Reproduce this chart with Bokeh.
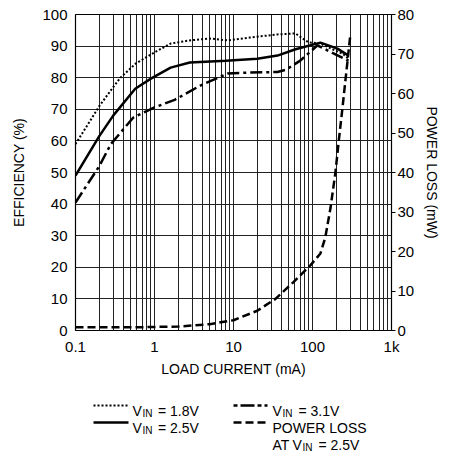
from bokeh.plotting import figure
from bokeh.models import Range1d, LinearAxis, FixedTicker, CustomJSTickFormatter
from bokeh.layouts import column
from bokeh.core.properties import value
from bokeh.embed import file_html
from bokeh.resources import INLINE

FONT = "Liberation Sans"

# ---- data ----
x_18 = [0.1, 0.15, 0.2, 0.28, 0.37, 0.58, 1, 1.6, 2.8, 5, 8.5, 16, 36, 61, 75, 89, 126, 179, 240, 286]
eff_18 = [59, 66, 71, 76, 80, 84.5, 88, 90.8, 91.8, 92.4, 91.8, 92.7, 93.7, 94, 92.4, 91.2, 90.8, 89, 87.6, 86]

x_25 = [0.1, 0.2, 0.3, 0.57, 0.9, 1.6, 2.8, 8, 20, 36, 61, 126, 207, 286]
eff_25 = [49, 61.5, 68, 76.5, 79.7, 83.2, 84.8, 85.4, 86, 87, 89, 91.1, 89.2, 87]

x_31 = [0.1, 0.2, 0.28, 0.54, 1, 1.8, 3.8, 8.4, 15, 36, 46, 70, 115, 286]
eff_31 = [40.5, 52, 59, 67.4, 70.6, 73, 77.5, 81.3, 81.6, 81.8, 82.5, 85.4, 90.2, 85.4]

x_loss = [0.1, 0.5, 1, 2, 5, 10, 20, 34, 57, 94, 126, 145, 169, 195, 215, 240, 260, 302]
p_loss = [0.8, 0.8, 0.9, 1.0, 1.6, 2.6, 5, 8, 12.2, 16.5, 19.5, 23.5, 31, 40, 48, 56.5, 63, 75]

x_major = [0.1, 1, 10, 100, 1000]
x_minor = [m * d for d in (0.1, 1, 10, 100) for m in range(2, 10)]
eff_ticks = list(range(0, 101, 10))
loss_ticks = list(range(0, 81, 10))

# ---- main chart ----
p = figure(width=450, height=380, x_axis_type="log",
           x_range=Range1d(0.1, 1000), y_range=Range1d(0, 100),
           output_backend="svg", toolbar_location=None,
           min_border_left=75, min_border_right=59,
           min_border_top=14, min_border_bottom=50,
           background_fill_color="white", border_fill_color="white")
p.frame_align = False
p.extra_y_ranges = {"power": Range1d(0, 80)}

p.outline_line_color = "black"
p.outline_line_width = 1.2

xa = p.xaxis[0]
xa.ticker = FixedTicker(ticks=x_major, minor_ticks=x_minor)
xa.formatter = CustomJSTickFormatter(code="return tick >= 1000 ? (tick/1000) + 'k' : String(tick);")
xa.axis_label = "LOAD CURRENT (mA)"

ya = p.yaxis[0]
ya.ticker = FixedTicker(ticks=eff_ticks)
ya.axis_label = "EFFICIENCY (%)"

ra = LinearAxis(y_range_name="power", axis_label="POWER LOSS (mW)",
                ticker=FixedTicker(ticks=loss_ticks))
p.add_layout(ra, "right")

for ax in (xa, ya, ra):
    ax.axis_line_color = None
    ax.minor_tick_line_color = None
    ax.major_tick_in = 0
    ax.major_label_text_font = FONT
    ax.major_label_text_font_size = "15px"
    ax.major_label_text_color = "black"
    ax.axis_label_text_font = FONT
    ax.axis_label_text_font_size = "14px"
    ax.axis_label_text_font_style = "normal"
    ax.axis_label_text_color = "black"

xa.major_tick_out = 0
xa.major_label_standoff = 3
xa.axis_label_standoff = 3
ya.major_tick_out = 0
ya.major_label_standoff = 8
ya.axis_label_standoff = 12
ra.major_tick_out = 4
ra.major_tick_line_color = "black"
ra.major_label_standoff = 2
ra.axis_label_standoff = 7

p.xgrid.ticker = FixedTicker(ticks=x_major, minor_ticks=x_minor)
p.xgrid.grid_line_color = "#222222"
p.xgrid.minor_grid_line_color = "#222222"
p.xgrid.grid_line_width = 1
p.xgrid.minor_grid_line_width = 1
p.ygrid.ticker = FixedTicker(ticks=eff_ticks)
p.ygrid.grid_line_color = "#222222"
p.ygrid.grid_line_width = 1

p.line(x_18, eff_18, line_color="black", line_width=2, line_dash="2 2")
p.line(x_25, eff_25, line_color="black", line_width=2.5)
p.line(x_31, eff_31, line_color="black", line_width=2.5, line_dash="12 4 3 4")
p.line(x_loss, p_loss, y_range_name="power", line_color="black", line_width=2.5, line_dash="8 4")

# ---- legend panel (coordinates in page pixels, offset by 380) ----
q = figure(width=450, height=72, x_range=Range1d(0, 450), y_range=Range1d(72, 0),
           output_backend="svg", toolbar_location=None, min_border=0,
           x_axis_location=None, y_axis_location=None,
           background_fill_color="white", border_fill_color="white")
q.frame_align = False
q.grid.visible = False
q.outline_line_color = None

q.line([93, 128], [25, 25], line_color="black", line_width=2, line_dash="2 2")
q.line([93, 128], [42, 42], line_color="black", line_width=2.5)
q.line([233, 267], [25, 25], line_color="black", line_width=2.5, line_dash="4 3 14 3")
q.line([233, 267], [42, 42], line_color="black", line_width=2.5, line_dash="8 4")

big_txt = ["V", "= 1.8V", "V", "= 3.1V", "V", "= 2.5V", "POWER LOSS", "AT", "V", "= 2.5V"]
big_x = [132, 157.5, 272, 298, 132, 157.5, 272, 272, 292, 318]
big_y = [30, 30, 30, 30, 47, 47, 47, 64, 64, 64]
q.text(x=big_x, y=big_y, text=big_txt, text_font=value(FONT), text_font_size="14px",
       text_baseline="alphabetic", text_align="left", text_color="black")

sub_txt = ["IN", "IN", "IN", "IN"]
sub_x = [142, 282, 142, 302]
sub_y = [33, 33, 50, 67]
q.text(x=sub_x, y=sub_y, text=sub_txt, text_font=value(FONT), text_font_size="10px",
       text_baseline="alphabetic", text_align="left", text_color="black")

layout = column(p, q, spacing=0)
open("out.html", "w").write(file_html(layout, INLINE))
